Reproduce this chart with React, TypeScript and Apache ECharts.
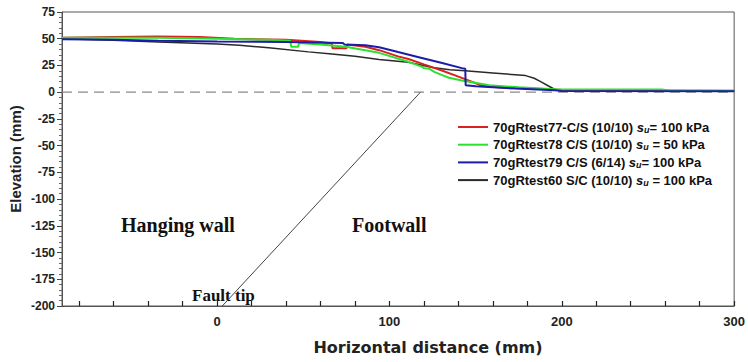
import React, { useEffect, useRef } from "react";
import * as echarts from "echarts";

// ---- axis ticks / labels ----
const X_TICKS = [-80, -60, -40, -20, 0, 20, 40, 60, 80, 100, 120, 140, 160, 180, 200, 220, 240, 260, 280, 300];
const X_LABELS = [0, 100, 200, 300];

// ---- series names ----
const NAME_77 = "70gRtest77-C/S (10/10)";
const NAME_78 = "70gRtest78 C/S (10/10)";
const NAME_79 = "70gRtest79 C/S (6/14)";
const NAME_60 = "70gRtest60 S/C (10/10)";

const LEGEND_TEXT: Record<string, string> = {
  [NAME_77]: "70gRtest77-C/S (10/10) {i|s}{sub|u}{t|= 100 kPa}",
  [NAME_78]: "70gRtest78 C/S (10/10) {i|s}{sub|u}{t| = 50 kPa}",
  [NAME_79]: "70gRtest79 C/S (6/14) {i|s}{sub|u}{t|= 100 kPa}",
  [NAME_60]: "70gRtest60 S/C (10/10) {i|s}{sub|u}{t| = 100 kPa}",
};

// ---- test60 (black) ----
const T60_X = [-90, -60, -34, 0, 13, 30, 53, 65, 80, 94, 111, 125, 135, 144, 160, 179, 184, 188, 192, 196, 200, 230, 300];
const T60_Y = [50, 48.5, 47, 45, 44, 41.5, 37.7, 36, 33.5, 30.6, 28, 23, 21, 20, 18, 15.5, 13, 9.7, 6, 2.5, 1.6, 1.5, 1.4];

// ---- test77 (red) ----
const T77_X = [-90, -60, -35, -10, 10, 40, 60, 66.5, 67, 75, 75.5, 86, 94, 105, 111, 120, 130, 140, 145, 153, 163, 180, 196, 205, 300];
const T77_Y = [51, 51.5, 52, 51.5, 50, 49, 47, 45.5, 41, 41, 44.5, 42.5, 39.3, 33.5, 31, 26, 20.5, 14.5, 11.5, 6.5, 4.5, 3.5, 2.5, 1.5, 1];

// ---- test78 (green) ----
const T78_X = [-90, -34, 0, 15, 30, 42.5, 43, 47, 47.5, 60, 74.6, 94, 111, 119, 120, 123, 126, 130.6, 134.5, 142, 158, 175, 196, 200, 258, 262, 300];
const T78_Y = [51, 51, 50, 49.5, 49, 48, 42.5, 42.5, 46, 44.5, 42.4, 36.8, 28.4, 23.7, 22.5, 22, 19, 16, 13.5, 11, 6.5, 4.5, 2.8, 2.5, 2.5, 1.5, 1.5];

// ---- test79 (blue) ----
const T79_X = [-90, -60, -34, 0, 40, 73, 74, 86, 94, 105, 117, 130, 142, 144, 144.2, 150, 173, 196, 200, 300];
const T79_Y = [49.5, 49, 48, 47.5, 47, 46, 44.5, 44, 42, 37.5, 32.7, 27.5, 22.5, 22, 6.5, 5.5, 3.4, 1.9, 1, 0.8];

// ---- reference lines ----
const ZERO_X = [-90, 300];
const ZERO_Y = [0, 0];
const FAULT_X = [3, 118];
const FAULT_Y = [-200, 0];

const zip = (xs: number[], ys: number[]) => xs.map((x, i) => [x, ys[i]]);

const SANS = '"Liberation Sans", Arial, sans-serif';

export default function App() {
  const ref = useRef<HTMLDivElement>(null);
  useEffect(() => {
    const chart = echarts.init(ref.current!, null, { renderer: "svg" });
    const lineSeries = (name: string, xs: number[], ys: number[], color: string, width: number) => ({
      name,
      type: "line",
      data: zip(xs, ys),
      symbol: "none",
      showSymbol: false,
      lineStyle: { color, width },
      itemStyle: { color },
      clip: true,
    });
    chart.setOption({
      animation: false,
      backgroundColor: "#ffffff",
      grid: {
        left: 62,
        right: 13,
        top: 12,
        bottom: 56,
        show: true,
        borderColor: "#555",
        borderWidth: 1,
      },
      xAxis: {
        type: "value",
        min: -90,
        max: 300,
        axisLine: { show: true, onZero: false, lineStyle: { color: "#555" } },
        axisTick: { show: true, alignWithLabel: false, inside: true, length: 5, customValues: X_TICKS, lineStyle: { color: "#222", width: 1.2 } },
        axisLabel: {
          customValues: X_LABELS,
          margin: 9,
          fontWeight: "bold",
          fontSize: 13,
          color: "#222",
          fontFamily: SANS,
        },
        splitLine: { show: false },
      },
      yAxis: {
        type: "value",
        min: -200,
        max: 75,
        interval: 25,
        axisLine: { show: true, onZero: false, lineStyle: { color: "#555" } },
        axisTick: { show: true, inside: false, length: 5, lineStyle: { color: "#444" } },
        minorTick: { show: true, splitNumber: 5, length: 3, lineStyle: { color: "#666" } },
        axisLabel: { margin: 7, fontWeight: "bold", fontSize: 12, color: "#222", fontFamily: SANS },
        splitLine: { show: false },
        minorSplitLine: { show: false },
      },
      legend: {
        data: [NAME_77, NAME_78, NAME_79, NAME_60],
        orient: "vertical",
        left: 453,
        top: 115,
        icon: "rect",
        itemWidth: 30,
        itemHeight: 2,
        itemGap: 3.7,
        formatter: (name: string) => LEGEND_TEXT[name],
        textStyle: {
          fontFamily: SANS,
          fontWeight: "bold",
          fontSize: 13,
          color: "#111",
          lineHeight: 14,
          rich: {
            i: { fontFamily: SANS, fontWeight: "bold", fontStyle: "italic", fontSize: 13, color: "#111", lineHeight: 14 },
            sub: {
              fontFamily: SANS,
              fontWeight: "bold",
              fontStyle: "italic",
              fontSize: 9,
              color: "#111",
              lineHeight: 14,
              verticalAlign: "bottom",
            },
            t: { fontFamily: SANS, fontWeight: "bold", fontSize: 13, color: "#111", lineHeight: 14 },
          },
        },
      },
      graphic: [
        {
          type: "text",
          x: 121,
          y: 225,
          silent: true,
          style: { text: "Hanging wall", font: 'bold 20px "Liberation Serif", "Times New Roman", serif', fill: "#111", textAlign: "left", textVerticalAlign: "middle" },
        },
        {
          type: "text",
          x: 352,
          y: 225,
          silent: true,
          style: { text: "Footwall", font: 'bold 20px "Liberation Serif", "Times New Roman", serif', fill: "#111", textAlign: "left", textVerticalAlign: "middle" },
        },
        {
          type: "text",
          x: 192,
          y: 295,
          silent: true,
          style: { text: "Fault tip", font: 'bold 17px "Liberation Serif", "Times New Roman", serif', fill: "#111", textAlign: "left", textVerticalAlign: "middle" },
        },
        {
          type: "text",
          x: 428,
          y: 347,
          silent: true,
          style: { text: "Horizontal distance (mm)", font: 'bold 16px "DejaVu Sans", sans-serif', fill: "#222", textAlign: "center", textVerticalAlign: "middle" },
        },
        {
          type: "text",
          x: 15,
          y: 159,
          rotation: Math.PI / 2,
          silent: true,
          style: { text: "Elevation (mm)", font: 'bold 15px "Liberation Sans", Arial, sans-serif', fill: "#222", textAlign: "center", textVerticalAlign: "middle" },
        },
      ],
      series: [
        {
          name: "zero",
          type: "line",
          data: zip(ZERO_X, ZERO_Y),
          symbol: "none",
          lineStyle: { color: "#8a8a8a", width: 1.2, type: [10, 6] },
          silent: true,
        },
        {
          name: "fault",
          type: "line",
          data: zip(FAULT_X, FAULT_Y),
          symbol: "none",
          lineStyle: { color: "#444", width: 1 },
          silent: true,
        },
        lineSeries(NAME_60, T60_X, T60_Y, "#2a2a2a", 1.5),
        lineSeries(NAME_77, T77_X, T77_Y, "#d62222", 2),
        lineSeries(NAME_78, T78_X, T78_Y, "#2ee02e", 2),
        lineSeries(NAME_79, T79_X, T79_Y, "#1c1ca8", 2),
      ],
    });
    return () => chart.dispose();
  }, []);
  return <div ref={ref} style={{ position: "fixed", left: 0, top: 0, width: 748, height: 362 }} />;
}
